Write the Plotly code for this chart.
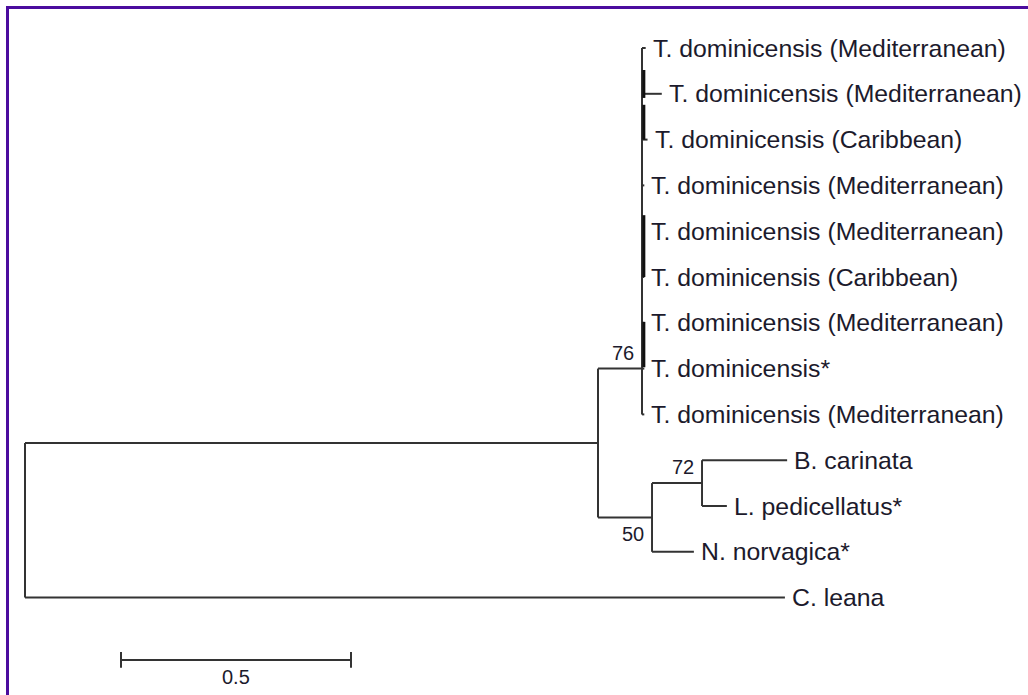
import plotly.graph_objects as go

# ---------------- data ----------------
taxa = [
    "T. dominicensis (Mediterranean)",
    "T. dominicensis (Mediterranean)",
    "T. dominicensis (Caribbean)",
    "T. dominicensis (Mediterranean)",
    "T. dominicensis (Mediterranean)",
    "T. dominicensis (Caribbean)",
    "T. dominicensis (Mediterranean)",
    "T. dominicensis*",
    "T. dominicensis (Mediterranean)",
    "B. carinata",
    "L. pedicellatus*",
    "N. norvagica*",
    "C. leana",
]
taxon_row = list(range(13))
taxon_parent = ["N76"] * 9 + ["N72", "N72", "N50", "root"]
taxon_brlen = [0.008, 0.043, 0.012, 0.005, 0.005, 0.005, 0.005, 0.005, 0.005,
               0.185, 0.054, 0.091, 1.652]

internal_nodes = ["A", "N76", "N50", "N72"]
internal_parent = ["root", "A", "A", "N50"]
internal_brlen = [1.2457, 0.0956, 0.1174, 0.1087]
internal_row_fixed = {"N76": 7.0}          # where the stem joins the T. dominicensis comb
bootstrap = {"N76": "76", "N72": "72", "N50": "50"}

# near-zero-length nested sub-clades inside the T. dominicensis group (rows)
subclade_spans = [(0.48, 1.09), (1.24, 2.0), (3.65, 5.0), (5.98, 6.97)]
subclade_offset = 0.004

scale_length = 0.5
scale_label = "0.5"

# ---------------- build tree geometry ----------------
taxa_ids = [f"t{i}" for i in range(len(taxa))]
parent, brlen = {}, {}
for n, p, b in zip(taxa_ids, taxon_parent, taxon_brlen):
    parent[n] = p
    brlen[n] = b
for n, p, b in zip(internal_nodes, internal_parent, internal_brlen):
    parent[n] = p
    brlen[n] = b

children = {}
for n, p in parent.items():
    children.setdefault(p, []).append(n)

depth = {"root": 0.0}
def get_depth(n):
    if n not in depth:
        depth[n] = get_depth(parent[n]) + brlen[n]
    return depth[n]
for n in parent:
    get_depth(n)

row = {tid: r for tid, r in zip(taxa_ids, taxon_row)}
def get_row(n):
    if n not in row:
        if n in internal_row_fixed:
            row[n] = internal_row_fixed[n]
        else:
            rs = [get_row(c) for c in children[n]]
            row[n] = sum(rs) / len(rs)
    return row[n]
for n in children:
    get_row(n)

LINE = "#333333"
TEXT = "#1c1a2c"
FONT = "Arial, Liberation Sans, sans-serif"

xs, ys = [], []
for n, p in parent.items():                      # horizontal branches
    xs += [depth[p], depth[n], None]
    ys += [row[n], row[n], None]
for n, ch in children.items():                   # vertical connectors
    rs = [row[c] for c in ch] + [row[n]]
    xs += [depth[n], depth[n], None]
    ys += [min(rs), max(rs), None]

fig = go.Figure()
fig.add_trace(go.Scatter(x=xs, y=ys, mode="lines",
                         line=dict(color=LINE, width=2), hoverinfo="skip",
                         showlegend=False))

sx, sy = [], []
for a, b in subclade_spans:
    sx += [depth["N76"] + subclade_offset] * 2 + [None]
    sy += [a, b, None]
fig.add_trace(go.Scatter(x=sx, y=sy, mode="lines",
                         line=dict(color="#111111", width=3), hoverinfo="skip",
                         showlegend=False))

for tid, name in zip(taxa_ids, taxa):
    fig.add_annotation(x=depth[tid], y=row[tid], text=name, showarrow=False,
                       xanchor="left", yanchor="middle", xshift=5,
                       font=dict(family=FONT, size=24.8, color=TEXT))

for n, val in bootstrap.items():
    below = n == "N50"
    fig.add_annotation(x=depth[n], y=row[n], text=val, showarrow=False,
                       xanchor="right", yanchor="top" if below else "bottom",
                       xshift=-6, yshift=-4 if below else 3,
                       font=dict(family=FONT, size=20, color=TEXT))

# scale bar
sb_x0 = 0.2087
sb_row = 13.36
fig.add_trace(go.Scatter(
    x=[sb_x0, sb_x0 + scale_length, None, sb_x0, sb_x0, None,
       sb_x0 + scale_length, sb_x0 + scale_length],
    y=[sb_row, sb_row, None, sb_row - 0.17, sb_row + 0.17, None,
       sb_row - 0.17, sb_row + 0.17],
    mode="lines", line=dict(color=LINE, width=2), hoverinfo="skip",
    showlegend=False))
fig.add_annotation(x=sb_x0 + scale_length / 2, y=sb_row, text=scale_label,
                   showarrow=False, xanchor="center", yanchor="top", yshift=-4,
                   font=dict(family=FONT, size=20, color=TEXT))

W, H = 1028, 695
px_per_unit = 460.0
x0_px = 25.0
row0_px, row_px = 48.0, 45.8
fig.update_xaxes(range=[-x0_px / px_per_unit, (W - x0_px) / px_per_unit],
                 visible=False, fixedrange=True)
fig.update_yaxes(range=[(H - row0_px) / row_px, -row0_px / row_px],
                 visible=False, fixedrange=True)

BORDER = "#4b0c9e"
fig.add_shape(type="line", xref="paper", yref="paper",
              x0=6 / W, x1=1, y0=1 - 7.5 / H, y1=1 - 7.5 / H,
              line=dict(color=BORDER, width=3))
fig.add_shape(type="line", xref="paper", yref="paper",
              x0=7.5 / W, x1=7.5 / W, y0=0, y1=1 - 6 / H,
              line=dict(color=BORDER, width=3))

fig.update_layout(width=W, height=H, margin=dict(l=0, r=0, t=0, b=0),
                  plot_bgcolor="white", paper_bgcolor="white")

fig.write_html("out.html", config={"displayModeBar": False},
               post_script="document.body.style.margin='0';"
                           "document.body.style.overflow='hidden';")
